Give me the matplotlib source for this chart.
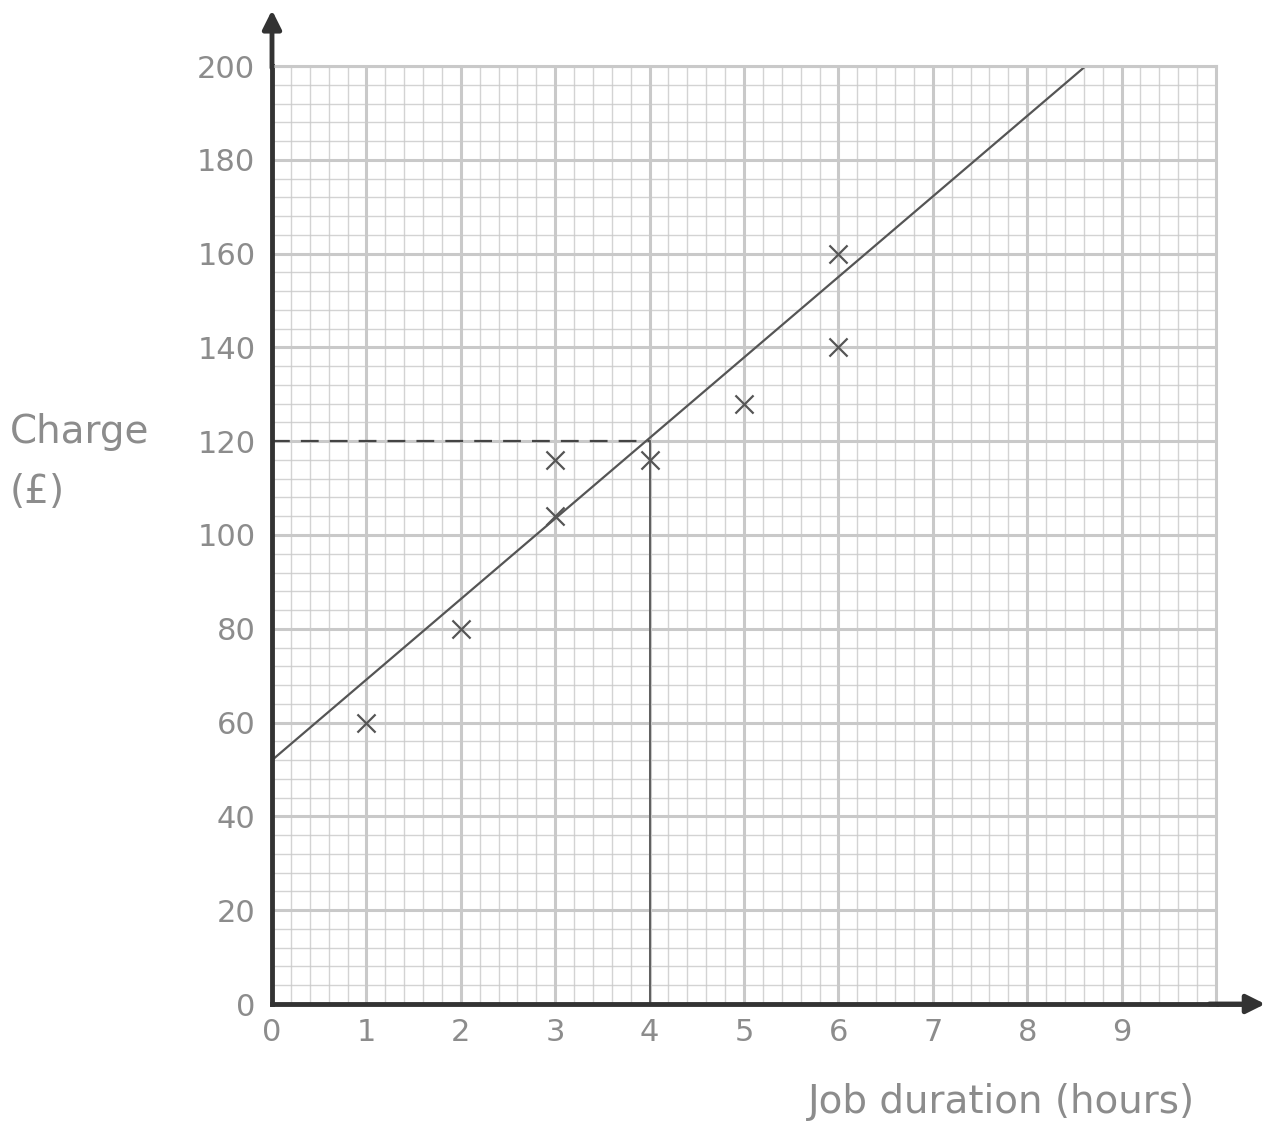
import matplotlib.pyplot as plt
from matplotlib.ticker import MultipleLocator

# data
hours = [1, 2, 3, 3, 4, 5, 6, 6]
charge = [60, 80, 116, 104, 116, 128, 160, 140]
fit_x = [0, 8.62]
fit_y = [52, 200]
read_x = 4
read_y = 120
x_ticks = [0, 1, 2, 3, 4, 5, 6, 7, 8, 9]
y_ticks = [0, 20, 40, 60, 80, 100, 120, 140, 160, 180, 200]

TXT = '#8c8c8c'
GRID = '#c9c9c9'
INK = '#555555'

fig = plt.figure(figsize=(12.69, 11.26), dpi=100)
ax = fig.add_axes([272 / 1269, 122 / 1126, 944 / 1269, 938 / 1126])
ax.set_xlim(0, 10)
ax.set_ylim(0, 200)

# graph paper
ax.xaxis.set_major_locator(MultipleLocator(1))
ax.xaxis.set_minor_locator(MultipleLocator(0.2))
ax.yaxis.set_major_locator(MultipleLocator(20))
ax.yaxis.set_minor_locator(MultipleLocator(4))
ax.grid(which='major', color=GRID, lw=2.2)
ax.grid(which='minor', color=GRID, lw=1.0, alpha=0.8)
ax.set_axisbelow(True)
ax.tick_params(which='both', length=0)

ax.set_xticks(x_ticks)
ax.set_yticks(y_ticks)
ax.set_xticklabels([str(t) for t in x_ticks])
ax.set_yticklabels([str(t) for t in y_ticks])
ax.tick_params(axis='x', labelsize=22, labelcolor=TXT, pad=10)
ax.tick_params(axis='y', labelsize=22, labelcolor=TXT, pad=12)

for s in ['top', 'right']:
    ax.spines[s].set_color(GRID)
    ax.spines[s].set_linewidth(2.2)
for s in ['left', 'bottom']:
    ax.spines[s].set_color('#333333')
    ax.spines[s].set_linewidth(3.5)

# axis arrows
ax.annotate('', xy=(0, 212.5), xytext=(0, 199), xycoords='data',
            arrowprops=dict(arrowstyle='-|>', color='#333333', lw=3.5, mutation_scale=28),
            annotation_clip=False)
ax.annotate('', xy=(10.55, 0), xytext=(9.9, 0), xycoords='data',
            arrowprops=dict(arrowstyle='-|>', color='#333333', lw=3.5, mutation_scale=28),
            annotation_clip=False)
ax.plot([10, 10.45], [0, 0], color='#333333', lw=3.5, clip_on=False, solid_capstyle='butt')

# line of best fit and reading
ax.plot(fit_x, fit_y, color='#555555', lw=1.6)
ax.plot([0, read_x], [read_y, read_y], color='#444444', lw=1.6, ls=(0, (8, 5)))
ax.plot([read_x, read_x], [read_y, 0], color='#555555', lw=1.3)

ax.scatter(hours, charge, marker='x', s=170, color=INK, linewidths=1.6, zorder=5)

fig.text(10 / 1269, 1 - 462 / 1126, 'Charge\n(£)', fontsize=28, color=TXT,
         ha='left', va='center', linespacing=1.75)
fig.text(1195 / 1269, 1 - 1102 / 1126, 'Job duration (hours)', fontsize=28, color=TXT,
         ha='right', va='center')

fig.savefig('out.png', dpi=100)
